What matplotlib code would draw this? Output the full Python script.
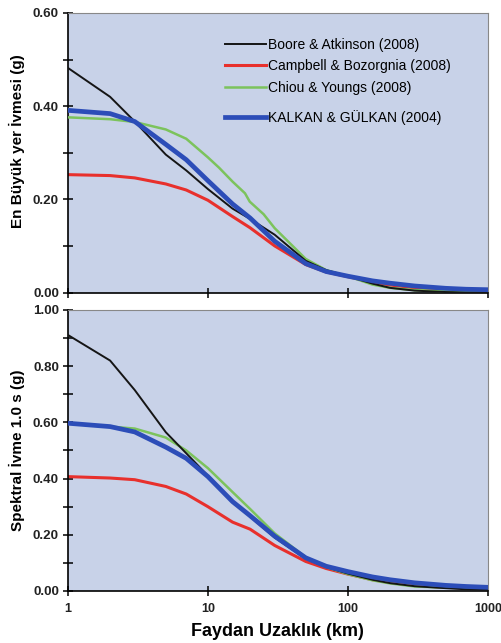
import matplotlib
matplotlib.use("Agg")
import matplotlib.pyplot as plt
from matplotlib.lines import Line2D
from matplotlib.ticker import MultipleLocator, FormatStrFormatter

plt.rcParams["font.family"] = ["Liberation Sans", "DejaVu Sans"]

# distances (km)
dist = [1, 2, 3, 5, 7, 10, 15, 20, 30, 50, 70, 100, 150, 200, 300, 500, 700, 1000]
dist_cy_pga = [1, 2, 3, 5, 7, 10, 12, 15, 18.4, 19.9, 25, 30, 50, 70, 100, 150, 200, 300, 500, 1000]

# PGA (g)
pga_ba = [0.482, 0.420, 0.367, 0.296, 0.262, 0.222, 0.180, 0.158, 0.124, 0.068, 0.048, 0.035, 0.019, 0.010, 0.004, 0.001, 0.000, 0.000]
pga_cb = [0.253, 0.251, 0.246, 0.233, 0.220, 0.198, 0.163, 0.139, 0.100, 0.060, 0.044, 0.034, 0.022, 0.016, 0.010, 0.007, 0.006, 0.005]
pga_cy = [0.376, 0.372, 0.366, 0.350, 0.330, 0.290, 0.268, 0.238, 0.213, 0.195, 0.168, 0.138, 0.072, 0.048, 0.035, 0.017, 0.010, 0.005, 0.003, 0.003]
pga_kg = [0.391, 0.384, 0.367, 0.318, 0.285, 0.240, 0.190, 0.160, 0.110, 0.062, 0.045, 0.035, 0.025, 0.020, 0.014, 0.009, 0.007, 0.006]

# SA 1.0 s (g)
sa_ba = [0.911, 0.820, 0.715, 0.565, 0.490, 0.410, 0.320, 0.265, 0.190, 0.115, 0.085, 0.062, 0.040, 0.028, 0.017, 0.010, 0.006, 0.004]
sa_cb = [0.407, 0.402, 0.396, 0.372, 0.345, 0.300, 0.245, 0.220, 0.162, 0.105, 0.080, 0.060, 0.040, 0.030, 0.020, 0.013, 0.011, 0.010]
sa_cy = [0.597, 0.585, 0.578, 0.546, 0.500, 0.437, 0.352, 0.292, 0.205, 0.120, 0.085, 0.060, 0.038, 0.027, 0.016, 0.012, 0.010, 0.010]
sa_kg = [0.597, 0.585, 0.566, 0.512, 0.472, 0.407, 0.318, 0.268, 0.195, 0.118, 0.088, 0.069, 0.050, 0.040, 0.029, 0.020, 0.016, 0.013]

labels = ["Boore & Atkinson (2008)", "Campbell & Bozorgnia (2008)",
          "Chiou & Youngs (2008)", "KALKAN & GÜLKAN (2004)"]
x_ticks = [1, 10, 100, 1000]
x_ticklabels = ["1", "10", "100", "1000"]

c_ba, c_cb, c_cy, c_kg = "#151515", "#e8302c", "#7cc35c", "#2c4db8"
lw_ba, lw_cb, lw_cy, lw_kg = 1.4, 2.2, 1.8, 3.4
bg = "#c8d2e8"

fig = plt.figure(figsize=(5.01, 6.43), dpi=100)
ax1 = fig.add_axes([0.1357, 0.5451, 0.838, 0.4347])
ax2 = fig.add_axes([0.1357, 0.0809, 0.838, 0.437])


def style_axis(ax, ymax, show_xlabels):
    ax.set_facecolor(bg)
    ax.set_xscale("log")
    ax.set_xlim(1, 1000)
    ax.set_ylim(0, ymax)
    ax.yaxis.set_major_locator(MultipleLocator(0.2))
    ax.yaxis.set_minor_locator(MultipleLocator(0.1))
    ax.yaxis.set_major_formatter(FormatStrFormatter("%.2f"))
    ax.set_xticks(x_ticks)
    ax.xaxis.set_minor_locator(matplotlib.ticker.NullLocator())
    if show_xlabels:
        ax.set_xticklabels(x_ticklabels)
    else:
        ax.set_xticklabels([])
    ax.tick_params(axis="both", which="both", direction="inout", length=7, width=1.1, pad=3)
    ax.tick_params(axis="y", labelsize=9.6)
    ax.tick_params(axis="x", labelsize=9.0, pad=5)
    for lab in ax.get_xticklabels() + ax.get_yticklabels():
        lab.set_fontweight("bold")
        lab.set_color("#222222")
    ax.spines["left"].set_color("black")
    ax.spines["bottom"].set_color("black")
    ax.spines["left"].set_linewidth(1.2)
    ax.spines["bottom"].set_linewidth(1.2)
    ax.spines["top"].set_color("#888888")
    ax.spines["right"].set_color("#888888")


def draw(ax, ba, cb, cy, kg, dist_cy):
    ax.plot(dist, cb, color=c_cb, lw=lw_cb, zorder=2)
    ax.plot(dist_cy, cy, color=c_cy, lw=lw_cy, zorder=3)
    ax.plot(dist, ba, color=c_ba, lw=lw_ba, zorder=4)
    ax.plot(dist, kg, color=c_kg, lw=lw_kg, zorder=5)


draw(ax1, pga_ba, pga_cb, pga_cy, pga_kg, dist_cy_pga)
draw(ax2, sa_ba, sa_cb, sa_cy, sa_kg, dist)

style_axis(ax1, 0.6, False)
style_axis(ax2, 1.0, True)

ax1.set_ylabel("En Büyük yer İvmesi (g)", fontsize=11, fontweight="bold")
ax2.set_ylabel("Spektral İvme 1.0 s (g)", fontsize=11, fontweight="bold")
ax1.yaxis.set_label_coords(-0.103, 0.54)
ax2.yaxis.set_label_coords(-0.103, 0.5)
ax2.set_xlabel("Faydan Uzaklık (km)", fontsize=13, fontweight="bold", labelpad=6)

handles = [Line2D([], [], color=c_ba, lw=lw_ba),
           Line2D([], [], color=c_cb, lw=lw_cb),
           Line2D([], [], color=c_cy, lw=lw_cy)]
leg_kw = dict(frameon=False, fontsize=10, handlelength=2.95, handletextpad=0.2,
              borderaxespad=0, borderpad=0.4)
leg1 = ax1.legend(handles, labels[:3], loc="upper left", bbox_to_anchor=(0.36, 0.93),
                  labelspacing=0.52, **leg_kw)
ax1.add_artist(leg1)
ax1.legend([Line2D([], [], color=c_kg, lw=lw_kg)], labels[3:], loc="upper left",
           bbox_to_anchor=(0.36, 0.672), **leg_kw)

fig.savefig("out.png", dpi=100)
